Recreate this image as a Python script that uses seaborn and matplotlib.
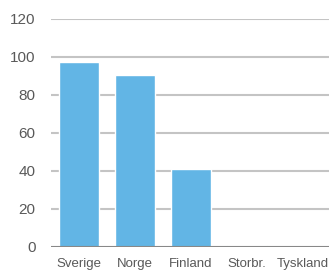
import numpy as np
import pandas as pd
import matplotlib
matplotlib.use("Agg")
import matplotlib.pyplot as plt
import seaborn as sns

# data
countries = ['Sverige', 'Norge', 'Finland', 'Storbr.', 'Tyskland']
values = [97.5, 90.3, 41.2, 0.8, 0.1]
y_ticks = [0, 20, 40, 60, 80, 100, 120]

sns.set_theme(style="white")
plt.rcParams['font.family'] = ['Liberation Sans', 'DejaVu Sans']

df = pd.DataFrame({'Land': countries, 'Verdi': values})

fig = plt.figure(figsize=(3.29, 2.71), dpi=100)
ax = fig.add_axes([0.155, 0.089, 0.85, 0.841])

for t in y_ticks[1:]:
    ax.axhline(t, color='#c4c4c4', linewidth=1.5, zorder=0)

sns.barplot(data=df, x='Land', y='Verdi', color='#62b5e5', width=0.71,
            saturation=1, ax=ax, zorder=2)
ax.axhline(0, color='#888888', linewidth=1.5, zorder=3)

ax.set_ylim(0, 120)
ax.set_yticks(y_ticks)
ax.set_xlim(-0.5, 4.5)
ax.set_xlabel('')
ax.set_ylabel('')
for s in ax.spines.values():
    s.set_visible(False)
ax.tick_params(axis='y', length=0, pad=11, labelsize=11, labelcolor='#595959')
ax.tick_params(axis='x', length=0, pad=8, labelsize=9.5, labelcolor='#595959')

fig.savefig('out.png', dpi=100)
